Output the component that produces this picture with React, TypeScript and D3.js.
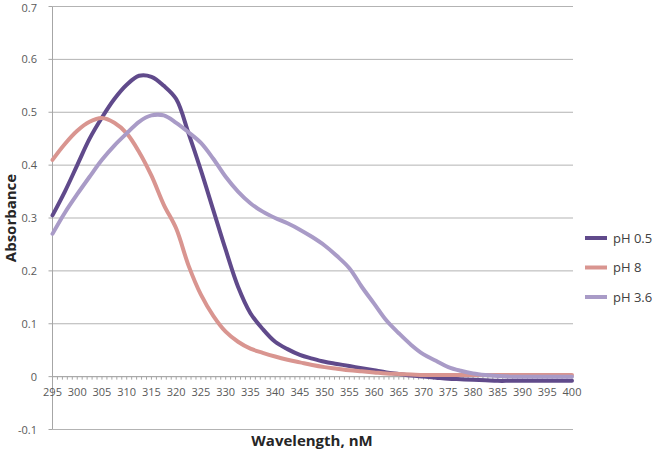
import React from "react";
import * as d3 from "d3";

// Absorbance spectra at three pH values, read every 2.5 nm
const wavelengths = d3.range(0, 43).map((i) => 295 + i * 2.5);

const ph05 = [
  0.305, 0.35, 0.4, 0.45, 0.49, 0.525, 0.552, 0.569, 0.567, 0.55, 0.525, 0.46, 0.39, 0.315, 0.24, 0.17,
  0.12, 0.09, 0.066, 0.052, 0.041, 0.034, 0.028, 0.024, 0.02, 0.016, 0.012, 0.008, 0.005, 0.002, 0.0,
  -0.002, -0.004, -0.005, -0.006, -0.007, -0.008, -0.008, -0.008, -0.008, -0.008, -0.008, -0.008,
];
const ph8 = [
  0.41, 0.44, 0.465, 0.482, 0.489, 0.48, 0.46, 0.425, 0.38, 0.325, 0.28, 0.21, 0.155, 0.115, 0.085, 0.066,
  0.053, 0.045, 0.038, 0.032, 0.027, 0.022, 0.018, 0.015, 0.012, 0.01, 0.008, 0.006, 0.005, 0.004, 0.003,
  0.003, 0.003, 0.003, 0.003, 0.003, 0.003, 0.003, 0.003, 0.003, 0.003, 0.003, 0.003,
];
const ph36 = [
  0.27, 0.31, 0.345, 0.378, 0.41, 0.437, 0.46, 0.482, 0.494, 0.494, 0.48, 0.462, 0.442, 0.412, 0.378, 0.35,
  0.328, 0.312, 0.3, 0.29, 0.278, 0.264, 0.248, 0.228, 0.205, 0.17, 0.138, 0.106, 0.082, 0.06, 0.042,
  0.03, 0.018, 0.011, 0.006, 0.003, 0.001, 0.0, 0.0, 0.0, 0.0, 0.0, 0.0,
];

const seriesNames = ["pH 0.5", "pH 8", "pH 3.6"];
const seriesColors = ["#604a8b", "#d99590", "#a99bc7"];
const seriesValues = [ph05, ph8, ph36];

const yTicks = [-0.1, 0, 0.1, 0.2, 0.3, 0.4, 0.5, 0.6, 0.7];
const xLabels = d3.range(295, 401, 5);
const xMinor = d3.range(295, 401, 1);

const W = 666;
const H = 452;
const font = "'Open Sans', 'Liberation Sans', sans-serif";

export default function App() {
  const x = d3.scaleLinear().domain([295, 400]).range([52.5, 572]);
  const y = d3.scaleLinear().domain([-0.1, 0.7]).range([429.5, 6.5]);

  const line = d3
    .line<number>()
    .x((_, i) => x(wavelengths[i]))
    .y((d) => y(d))
    .curve(d3.curveCatmullRom.alpha(0.5));

  const fmt = (t: number) => (t === 0 ? "0" : d3.format(".1f")(t).replace("−", "-"));

  return (
    <svg
      width={W}
      height={H}
      style={{ position: "absolute", left: 0, top: 0, background: "#fff" }}
      fontFamily={font}
    >
      {/* horizontal gridlines */}
      {yTicks.map((t) => (
        <line key={"g" + t} x1={x(295)} x2={573} y1={y(t)} y2={y(t)} stroke="#b3b3b3" strokeWidth={1} />
      ))}
      {/* y axis */}
      <line x1={x(295)} x2={x(295)} y1={y(0.7)} y2={y(-0.1)} stroke="#a6a6a6" />
      {yTicks.map((t) => (
        <g key={"y" + t}>
          <line x1={x(295) - 4} x2={x(295)} y1={y(t)} y2={y(t)} stroke="#a6a6a6" />
          <text x={37} y={Math.max(y(t) + 4, 12)} textAnchor="end" fontSize={11} fill="#595959">
            {fmt(t)}
          </text>
        </g>
      ))}
      {/* x axis along zero */}
      <line x1={x(295)} x2={573} y1={y(0)} y2={y(0)} stroke="#a6a6a6" />
      {xMinor.map((v) => (
        <line key={"m" + v} x1={x(v)} x2={x(v)} y1={y(0)} y2={y(0) + 3} stroke="#a6a6a6" />
      ))}
      {xLabels.map((v) => (
        <text key={"x" + v} x={x(v)} y={y(0) + 19} textAnchor="middle" fontSize={11} fill="#595959">
          {v}
        </text>
      ))}
      {/* spectra */}
      {seriesValues.map((vals, i) => (
        <path
          key={seriesNames[i]}
          d={line(vals) || ""}
          fill="none"
          stroke={seriesColors[i]}
          strokeWidth={4}
          strokeLinecap="round"
          strokeLinejoin="round"
        />
      ))}
      {/* axis titles */}
      <text
        transform={`translate(16,${y(0.3)}) rotate(-90)`}
        textAnchor="middle"
        fontSize={15}
        fontWeight="bold"
        fill="#262626"
      >
        Absorbance
      </text>
      <text x={312} y={446} textAnchor="middle" fontSize={15} fontWeight="bold" fill="#262626">
        Wavelength, nM
      </text>
      {/* legend */}
      {seriesNames.map((name, i) => (
        <g key={"l" + name} transform={`translate(585,${238 + i * 29.5})`}>
          <line x1={0} x2={22} y1={0} y2={0} stroke={seriesColors[i]} strokeWidth={4} />
          <text x={28} y={0} dy="0.35em" fontSize={13} fill="#404040">
            {name}
          </text>
        </g>
      ))}
    </svg>
  );
}
